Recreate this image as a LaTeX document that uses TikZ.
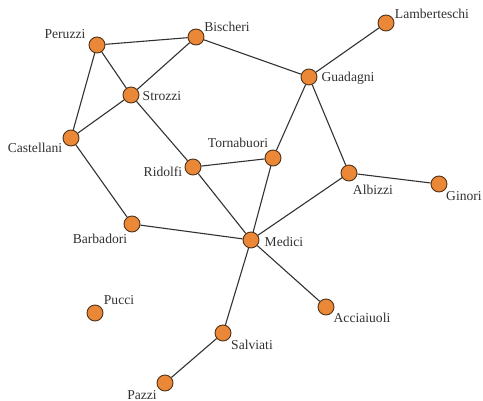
\documentclass[tikz,border=0pt]{standalone}
\usepackage{fontspec}
\setmainfont{Liberation Serif}
\definecolor{nodefill}{RGB}{234,136,56}
\definecolor{nodeedge}{RGB}{80,50,25}
\definecolor{edgecol}{RGB}{50,50,50}
\definecolor{labelcol}{RGB}{50,50,50}
\begin{document}
\begin{tikzpicture}[x=1pt,y=-1pt,
  family/.style={circle,fill=nodefill,draw=nodeedge,line width=0.9pt,minimum size=16pt,inner sep=0pt},
  tag/.style={font=\fontsize{13.6}{14}\selectfont,text=labelcol,inner sep=0pt},
  tie/.style={draw=edgecol,line width=1.1pt}]
\useasboundingbox (0,0) rectangle (483,401);
% families
\node[family] (peruzzi) at (97,45) {};
\node[family] (bischeri) at (196,37) {};
\node[family] (lamberteschi) at (386,23) {};
\node[family] (strozzi) at (131,95) {};
\node[family] (guadagni) at (309,77) {};
\node[family] (castellani) at (71,138) {};
\node[family] (tornabuori) at (273,158) {};
\node[family] (ridolfi) at (193,167) {};
\node[family] (albizzi) at (349,173) {};
\node[family] (ginori) at (439,184) {};
\node[family] (barbadori) at (132,224) {};
\node[family] (medici) at (251,240) {};
\node[family] (pucci) at (95,313) {};
\node[family] (acciaiuoli) at (326,307) {};
\node[family] (salviati) at (223,333) {};
\node[family] (pazzi) at (165,383) {};
% names
\node[tag] (tperuzzi) at (65,34) {Peruzzi};
\node[tag] (tbischeri) at (227,27) {Bischeri};
\node[tag] (tlamberteschi) at (432,14) {Lamberteschi};
\node[tag] (tstrozzi) at (162,96) {Strozzi};
\node[tag] (tguadagni) at (348,78) {Guadagni};
\node[tag] (tcastellani) at (35,148) {Castellani};
\node[tag] (ttornabuori) at (238,143) {Tornabuori};
\node[tag] (tridolfi) at (163,172) {Ridolfi};
\node[tag] (talbizzi) at (373,190) {Albizzi};
\node[tag] (tginori) at (464,196) {Ginori};
\node[tag] (tbarbadori) at (100,239) {Barbadori};
\node[tag] (tmedici) at (284,242) {Medici};
\node[tag] (tpucci) at (119,300) {Pucci};
\node[tag] (tacciaiuoli) at (362,318) {Acciaiuoli};
\node[tag] (tsalviati) at (252,345) {Salviati};
\node[tag] (tpazzi) at (142,395) {Pazzi};
% marriage ties
\draw[tie] (peruzzi) -- (bischeri);
\draw[tie] (peruzzi) -- (strozzi);
\draw[tie] (peruzzi) -- (castellani);
\draw[tie] (bischeri) -- (strozzi);
\draw[tie] (bischeri) -- (guadagni);
\draw[tie] (lamberteschi) -- (guadagni);
\draw[tie] (strozzi) -- (castellani);
\draw[tie] (strozzi) -- (ridolfi);
\draw[tie] (castellani) -- (barbadori);
\draw[tie] (guadagni) -- (tornabuori);
\draw[tie] (guadagni) -- (albizzi);
\draw[tie] (tornabuori) -- (ridolfi);
\draw[tie] (tornabuori) -- (medici);
\draw[tie] (ridolfi) -- (medici);
\draw[tie] (albizzi) -- (medici);
\draw[tie] (albizzi) -- (ginori);
\draw[tie] (barbadori) -- (medici);
\draw[tie] (medici) -- (acciaiuoli);
\draw[tie] (medici) -- (salviati);
\draw[tie] (salviati) -- (pazzi);
\end{tikzpicture}
\end{document}
